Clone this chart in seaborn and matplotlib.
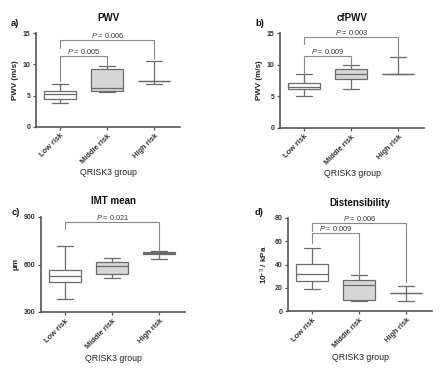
import matplotlib
matplotlib.use("Agg")
import matplotlib.pyplot as plt
import seaborn as sns
import pandas as pd

sns.set_theme(style="white")
plt.rcParams['font.family'] = ['Liberation Sans', 'DejaVu Sans']
plt.rcParams['mathtext.fontset'] = 'custom'
plt.rcParams['mathtext.rm'] = 'Liberation Sans'
plt.rcParams['mathtext.it'] = 'Liberation Sans:italic'
plt.rcParams['mathtext.bf'] = 'Liberation Sans:bold'

groups = ["Low risk", "Middle risk", "High risk"]

# five-number summaries per group: [min, q1, median, q3, max]
pwv_low = [3.8, 4.5, 5.2, 5.7, 6.8]
pwv_mid = [5.6, 5.7, 6.2, 9.2, 9.7]
pwv_high = [6.9, 7.4, 7.4, 7.4, 10.6]

cfpwv_low = [5.0, 6.1, 6.4, 7.15, 8.5]
cfpwv_mid = [6.1, 7.7, 8.5, 9.3, 9.9]
cfpwv_high = [8.5, 8.5, 8.5, 8.5, 11.3]

imt_low = [380, 487, 529, 565, 715]
imt_mid = [513, 538, 588, 616, 639]
imt_high = [635, 668, 670, 678, 683]

dist_low = [19.3, 25.4, 32.0, 40.5, 54.0]
dist_mid = [9.0, 9.6, 22.5, 27.0, 30.9]
dist_high = [8.2, 15.3, 15.3, 15.3, 21.8]

titles = ["PWV", "cfPWV", "IMT mean", "Distensibility"]
panel_labels = ["a)", "b)", "c)", "d)"]
ylabels = ["PWV (m/s)", "PWV (m/s)", "\u03bcm", "10$^{-3}$ / kPa"]
yticks = [[0, 5, 10, 15], [0, 5, 10, 15], [300, 600, 900], [0, 20, 40, 60, 80]]

# brackets: (left group, right group, y, left leg end, right leg end, label)
brackets = [
    [(0, 2, 13.9, 12.6, 10.9, "0.006"), (0, 1, 11.4, 7.4, 9.8, "0.005")],
    [(0, 2, 14.4, 13.3, 11.3, "0.003"), (0, 1, 11.4, 8.6, 10.0, "0.009")],
    [(0, 2, 870, 824, 683, "0.021")],
    [(0, 2, 75.5, 68.5, 25.0, "0.006"), (0, 1, 67.5, 58.5, 31.0, "0.009")],
]

datasets = [
    [pwv_low, pwv_mid, pwv_high],
    [cfpwv_low, cfpwv_mid, cfpwv_high],
    [imt_low, imt_mid, imt_high],
    [dist_low, dist_mid, dist_high],
]

W, H = 442, 374
fig = plt.figure(figsize=(W / 100, H / 100), dpi=100)

# axes rectangles in pixels: left, top (y of ymax), bottom (y of ymin)
rects = [
    (36, 33.3, 126.7),
    (280, 33.3, 127.7),
    (41, 217, 312),
    (288, 218, 311),
]
label_pos = [(11, 24), (255, 24), (12, 212), (255, 212)]
xmin, xmax = -0.52, 2.55
spacing = 47.0

line_col = "#6b6b6b"
spine_col = "#555555"
palette = {"Low risk": "white", "Middle risk": "#d6d6d6", "High risk": "#d6d6d6"}

for i, (rect, data) in enumerate(zip(rects, datasets)):
    left, top, bottom = rect
    width_px = (xmax - xmin) * spacing
    ax = fig.add_axes([left / W, 1 - bottom / H, width_px / W, (bottom - top) / H])
    rows = []
    for g, vals in zip(groups, data):
        for v in vals:
            rows.append({"group": g, "value": v})
    df = pd.DataFrame(rows)
    sns.boxplot(data=df, x="group", y="value", hue="group", palette=palette,
                whis=(0, 100), width=0.68, linecolor=line_col, linewidth=0.9,
                legend=False, ax=ax, order=groups)
    ax.set_xlim(xmin, xmax)
    ax.set_ylim(yticks[i][0], yticks[i][-1])
    ax.set_yticks(yticks[i])
    ax.set_yticklabels([str(t) for t in yticks[i]], fontsize=5, fontweight="bold", color="#333333")
    ax.set_xticks(range(3))
    ax.set_xticklabels(groups, rotation=45, ha="right", rotation_mode="anchor",
                       fontsize=5.4, fontweight="bold", color="#333333")
    ax.tick_params(axis="both", which="major", direction="out", length=2.5, width=0.9,
                   color=spine_col, pad=1.5, bottom=True, left=True)
    for s in ["top", "right"]:
        ax.spines[s].set_visible(False)
    for s in ["left", "bottom"]:
        ax.spines[s].set_color(spine_col)
        ax.spines[s].set_linewidth(1.2)
    ax.set_xlabel("QRISK3 group", fontsize=6.3, color="#222222", labelpad=2.5)
    ax.set_ylabel(ylabels[i], fontsize=5.8, fontweight="bold", color="#222222", labelpad=3)
    ax.set_title(titles[i], fontsize=7, fontweight="bold", color="#111111", pad=9)
    fig.text(label_pos[i][0] / W, 1 - label_pos[i][1] / H, panel_labels[i], fontsize=6.8,
             fontweight="bold", color="#111111", ha="left", va="center")
    for (g1, g2, y, l1, l2, lab) in brackets[i]:
        ax.plot([g1, g1, g2, g2], [l1, y, y, l2], color="#888888", lw=0.8,
                solid_joinstyle="miter", clip_on=False)
        ax.text((g1 + g2) / 2, y, "$\\it{P}$ = " + lab, ha="center", va="bottom",
                fontsize=5.3, color="#333333")

fig.savefig("out.png", dpi=100)
